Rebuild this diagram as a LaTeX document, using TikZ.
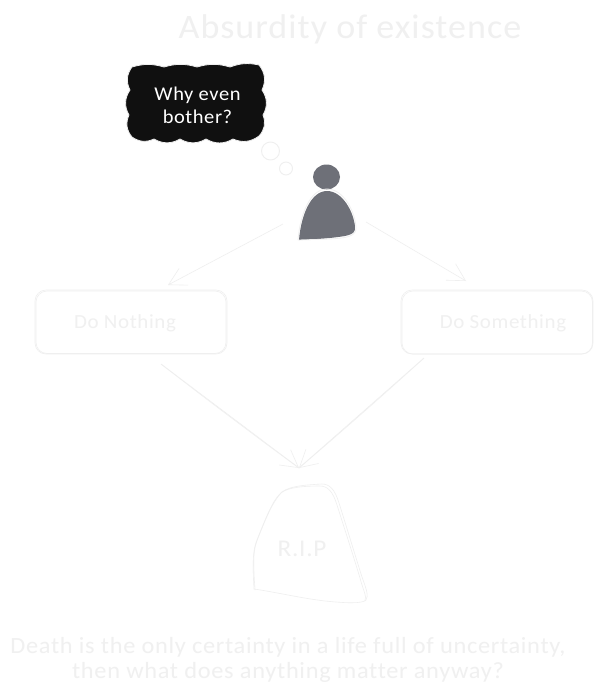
\documentclass[tikz,border=0pt]{standalone}
\usepackage{fontspec}
\usetikzlibrary{arrows.meta,shapes.geometric}
\newfontfamily\handfont[LetterSpace=3,FakeStretch=1.05,Ligatures=NoCommon]{Carlito}
\definecolor{ghost}{HTML}{F0F0F0}
\definecolor{ghostline}{HTML}{EFEFEF}
\definecolor{thought}{HTML}{101010}
\definecolor{personfill}{HTML}{6E7078}
\tikzset{
  x=1pt,y=-1pt,
  faint/.style={draw=ghostline,line width=.6pt},
  label text/.style={text=ghost,inner sep=0pt,align=center,font=\handfont},
  actionbox/.style={faint,rounded corners=11pt,minimum width=192pt,minimum height=64pt,inner sep=0pt},
  flow/.style={faint,-{Straight Barb[length=17pt,width=19pt,line width=.6pt]}},
}
\begin{document}
\begin{tikzpicture}
\useasboundingbox (0,0) rectangle (602,694);
\fill[white] (0,0) rectangle (602,694);

% title
\node[label text] (title) at (350,29) {\fontsize{34.3}{38}\selectfont Absurdity of existence};

% thought cloud
\fill[thought,draw=ghostline,line width=.8pt]
  (132,67) to[bend left=16] (164,67) to[bend left=16] (197,67) to[bend left=16] (230,67) to[bend left=16] (259,65)
  to[bend left=32] (262,90) to[bend left=32] (263,115) to[bend left=32] (259,136)
  to[bend left=30] (233,139) to[bend left=30] (206,139) to[bend left=30] (180,139) to[bend left=30] (154,139) to[bend left=30] (132,137)
  to[bend left=32] (129,115) to[bend left=32] (130,90) to[bend left=32] (132,67) -- cycle;
\node[text=white,inner sep=0pt,align=center,font=\handfont\fontsize{19.5}{23.5}\selectfont] (cloudtext) at (197.5,105.5) {Why even\\bother?};

% thought bubbles
\node[draw=ghostline,line width=.9pt,circle,minimum size=18pt,inner sep=0pt] (bubbleA) at (270.5,151) {};
\node[draw=ghostline,line width=.9pt,circle,minimum size=13pt,inner sep=0pt] (bubbleB) at (286,168.5) {};

% person
\node[fill=personfill,ellipse,minimum width=27pt,minimum height=25pt,inner sep=0pt] (head) at (326.5,177) {};
\fill[personfill] (299,240) .. controls (301,215) and (311,191) .. (327,191) .. controls (343,191) and (354,213) .. (355,227) .. controls (356,236) and (345,236) .. (330,238) .. controls (318,239) and (306,240) .. (299,240) -- cycle;
\draw[draw=ghostline,line width=.8pt] (298,240) .. controls (300,215) and (310,189) .. (327,189) .. controls (344,189) and (355,212) .. (356,227) .. controls (357,237) and (345,238) .. (330,239) -- (298,240);

% boxes
\node[actionbox,draw] (nothing) at (131,322) {};
\node[actionbox,draw] (something) at (497,322) {};
\draw[faint,rounded corners=11pt] (36,291) rectangle (226,353.5);
\draw[faint,rounded corners=11pt] (402,291) rectangle (592.5,354);
\node[label text,font=\handfont\fontsize{20}{24}\selectfont] (nothinglabel) at (125,323) {Do Nothing};
\node[label text,font=\handfont\fontsize{20}{24}\selectfont] (somethinglabel) at (503,323) {Do Something};

% connectors
\coordinate (personL) at (283,224);
\coordinate (personR) at (366,222);
\coordinate (tipL) at (168,285);
\coordinate (tipR) at (466,281);
\coordinate (nothingOut) at (161,364);
\coordinate (somethingOut) at (424,358);
\coordinate (graveTop) at (299,468);
\draw[flow] (personL) -- (tipL);
\draw[flow] (personR) -- (tipR);
\draw[flow] (nothingOut) -- (graveTop);
\draw[flow] (somethingOut) -- (graveTop);
\draw[faint] (nothingOut) .. controls (210,402) and (255,436) .. (graveTop);
\draw[faint] (somethingOut) .. controls (380,398) and (340,433) .. (graveTop);

% tombstone
\draw[faint] (254,589) .. controls (252,555) and (254,548) .. (257,540) .. controls (265,520) and (272,502) .. (279,495) .. controls (285,486) and (305,485) .. (322,484) .. controls (330,484) and (335,490) .. (339,503) .. controls (346,525) and (355,555) .. (362,577) .. controls (366,588) and (369,596) .. (366,600) .. controls (362,604) and (345,603) .. (325,601) .. controls (300,598) and (275,592) .. (254,589) -- cycle;
\draw[faint] (255,590) .. controls (253,560) and (253,550) .. (258,538) .. controls (266,518) and (272,503) .. (281,493) .. controls (288,487) and (305,486) .. (320,486) .. controls (328,486) and (333,492) .. (337,505) .. controls (344,527) and (354,558) .. (360,578) .. controls (363,590) and (367,596) .. (365,601);
\node[label text,font=\handfont\fontsize{24}{24}\selectfont] (rip) at (302,549) {R.I.P};

% caption
\node[label text,font=\handfont\fontsize{23.2}{24.5}\selectfont] (caption) at (288,660) {Death is the only certainty in a life full of uncertainty,\\then what does anything matter anyway?};
\end{tikzpicture}
\end{document}
